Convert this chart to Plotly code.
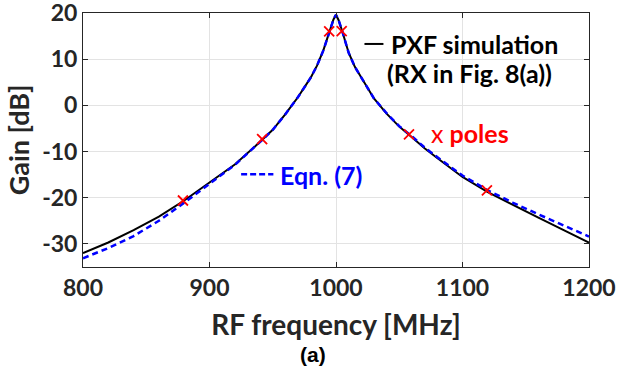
import plotly.graph_objects as go

# ---- data ----
freq_sim = [800, 820, 840, 860, 880, 900, 920, 940, 950, 960, 970, 980, 985, 990,
            995, 998, 1000, 1002, 1005, 1010, 1015, 1020, 1030, 1040, 1050, 1060,
            1070, 1080, 1090, 1100, 1120, 1140, 1160, 1180, 1200]
gain_sim = [-32.0, -29.7, -27.0, -24.1, -20.6, -16.7, -12.8, -7.9, -5.3, -1.9, 1.8,
            6.0, 8.6, 11.9, 16.2, 18.6, 19.6, 18.5, 16.0, 11.4, 8.3, 6.1, 1.5, -1.8,
            -4.6, -6.9, -9.3, -11.4, -13.5, -15.5, -18.8, -21.6, -24.3, -27.0, -29.7]

freq_eqn = freq_sim
gain_eqn = [-33.1, -30.9, -28.3, -25.0, -21.1, -16.9, -12.9, -7.9, -5.3, -1.9, 1.8,
            6.0, 8.6, 11.9, 16.2, 18.6, 19.6, 18.5, 16.0, 11.4, 8.3, 6.1, 1.5, -1.7,
            -4.5, -6.7, -9.1, -11.2, -13.2, -15.2, -18.4, -21.1, -23.6, -26.0, -28.4]

pole_freq = [879, 941.6, 994.6, 1004.5, 1057.7, 1119.3]
pole_gain = [-20.6, -7.3, 16.0, 16.1, -6.3, -18.4]

x_ticks = [800, 900, 1000, 1100, 1200]
x_tick_labels = ["800", "900", "1000", "1100", "1200"]
y_ticks = [-30, -20, -10, 0, 10, 20]
y_tick_labels = ["-30", "-20", "-10", "0", "10", "20"]

FONT = "Lato"
TXT = "#262626"

fig = go.Figure()
fig.add_trace(go.Scatter(x=freq_sim, y=gain_sim, mode="lines",
                         line=dict(color="black", width=2), name="PXF simulation"))
fig.add_trace(go.Scatter(x=freq_eqn, y=gain_eqn, mode="lines",
                         line=dict(color="#0000ff", width=2.5, dash="6px,4px"),
                         name="Eqn. (7)"))
fig.add_trace(go.Scatter(x=pole_freq, y=pole_gain, mode="markers",
                         marker=dict(symbol="x-thin", size=10, color="red",
                                     line=dict(color="red", width=1.8)),
                         name="poles"))

axis_common = dict(showline=True, linecolor=TXT, linewidth=1, mirror="ticks",
                   ticks="inside", ticklen=5, tickcolor=TXT, automargin=False,
                   ticklabeloverflow="allow",
                   showgrid=True, gridcolor="#e3e3e3", gridwidth=1, zeroline=False,
                   tickfont=dict(family=FONT, size=23, color=TXT, weight="bold"))

fig.update_xaxes(range=[800, 1200], tickvals=x_ticks, ticktext=x_tick_labels,
                 title=dict(text="RF frequency [MHz]", standoff=15,
                            font=dict(family=FONT, size=28, color=TXT, weight="bold")),
                 **axis_common)
fig.update_yaxes(range=[-35, 20.001], tickvals=y_ticks, ticktext=y_tick_labels,
                 title=dict(text="Gain [dB]", standoff=4,
                            font=dict(family=FONT, size=27, color=TXT, weight="bold")),
                 **axis_common)

# manual legend
fig.add_shape(type="line", xref="x", yref="y", x0=1022.5, x1=1037.5, y0=13.3, y1=13.3,
              line=dict(color="black", width=2))
fig.add_annotation(x=1042.0, y=13.3, xref="x", yref="y", text="PXF simulation",
                   showarrow=False, xanchor="left", yanchor="middle",
                   font=dict(family=FONT, size=25, color="black", weight="bold"))
fig.add_annotation(x=1038.8, y=7.0, xref="x", yref="y", text="(RX in Fig. 8(a))",
                   showarrow=False, xanchor="left", yanchor="middle",
                   font=dict(family=FONT, size=25, color="black", weight="bold"))
fig.add_annotation(x=1073.8, y=-6.0, xref="x", yref="y",
                   text="<span style='font-weight:normal'>x</span> poles",
                   showarrow=False, xanchor="left", yanchor="middle",
                   font=dict(family=FONT, size=25, color="red", weight="bold"))
fig.add_shape(type="line", xref="x", yref="y", x0=925, x1=950.5, y0=-14.9, y1=-14.9,
              line=dict(color="#0000ff", width=2.5, dash="6px,3px"))
fig.add_annotation(x=954.0, y=-15.0, xref="x", yref="y", text="Eqn. (7)",
                   showarrow=False, xanchor="left", yanchor="middle",
                   font=dict(family=FONT, size=25, color="#0000ff", weight="bold"))
fig.add_annotation(x=0.455, y=-0.345, xref="paper", yref="paper", text="(a)",
                   showarrow=False, xanchor="center", yanchor="middle",
                   font=dict(family="Liberation Sans Narrow, Liberation Sans", size=21,
                             color="black", weight="bold"))

fig.update_layout(width=620, height=377, showlegend=False,
                  margin=dict(l=83, r=31, t=13, b=110),
                  paper_bgcolor="white", plot_bgcolor="white")

# place the figure at the page's top-left corner (no default body margin)
fig.write_html("out.html", config={"displayModeBar": False},
               post_script="document.body.style.margin='0px';"
                           "document.body.style.overflow='hidden';")
